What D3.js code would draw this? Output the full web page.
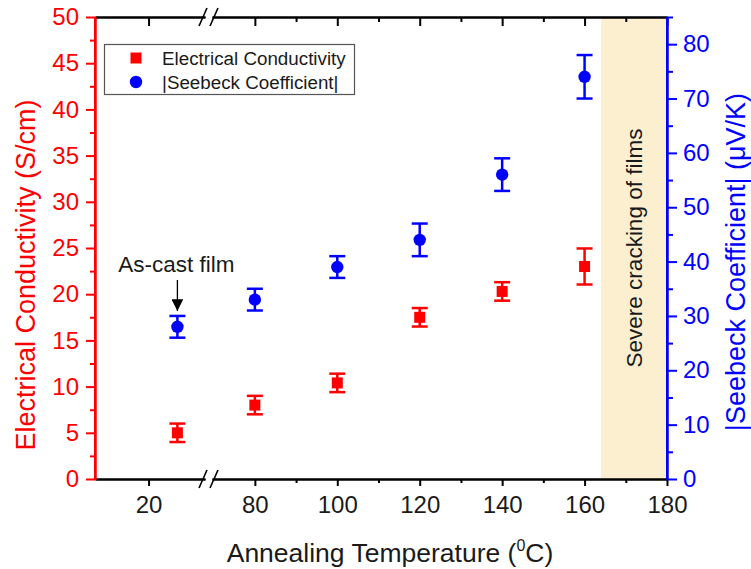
<!DOCTYPE html>
<html>
<head>
<meta charset="utf-8">
<script src="https://cdn.jsdelivr.net/npm/d3@7"></script>
<style>
  html, body { margin: 0; padding: 0; background: #fff; }
  svg { display: block; font-family: "Liberation Sans", Arial, sans-serif; }
</style>
</head>
<body>
<svg id="chart" width="751" height="569"></svg>
<script>
// Annealing temperatures (°C); the first point is the as-cast film at room temperature
const temperatures = [27, 80, 100, 120, 140, 160];
// Electrical conductivity (S/cm) and its error
const conductivity = [5.0, 8.0, 10.4, 17.5, 20.3, 23.0];
const conductivityErr = [1.0, 1.0, 1.0, 1.0, 1.0, 1.95];
// |Seebeck coefficient| (µV/K) and its error
const seebeck = [28, 33, 39, 44, 56, 74];
const seebeckErr = [2.0, 2.0, 2.0, 3.0, 3.0, 4.0];

// Tick values
const xTicksLeft = [20];
const xTicksRight = [80, 100, 120, 140, 160, 180];
const xMinorRight = [90, 110, 130, 150, 170];
const yLeftTicks = [0, 5, 10, 15, 20, 25, 30, 35, 40, 45, 50];
const yLeftMinor = [2.5, 7.5, 12.5, 17.5, 22.5, 27.5, 32.5, 37.5, 42.5, 47.5];
const yRightTicks = [0, 10, 20, 30, 40, 50, 60, 70, 80];
const yRightMinor = [5, 15, 25, 35, 45, 55, 65, 75, 85];

// Region where the films crack
const crackRange = [164, 180];

const RED = "#ff0000", BLUE = "#0000ff", INK = "#1a1a1a";
const svg = d3.select("#chart");

const plot = { left: 95, right: 667, top: 17, bottom: 479 };

// Broken x axis: two linear segments with the same px-per-degree
const xL = d3.scaleLinear().domain([7, 33.7]).range([plot.left, 205]);
const xR = d3.scaleLinear().domain([69.6, 180]).range([212, plot.right]);
const x = v => (v < 50 ? xL(v) : xR(v));

const yL = d3.scaleLinear().domain([0, 50]).range([plot.bottom, plot.top]);
const yR = d3.scaleLinear().domain([0, 85]).range([plot.bottom, plot.top]);

// Shaded cracking region
svg.append("rect")
  .attr("x", xR(crackRange[0]))
  .attr("y", plot.top)
  .attr("width", xR(crackRange[1]) - xR(crackRange[0]))
  .attr("height", plot.bottom - plot.top)
  .attr("fill", "#fcefd0");

svg.append("text")
  .attr("transform", `translate(642, 248) rotate(-90)`)
  .attr("text-anchor", "middle")
  .attr("font-size", 22.5)
  .attr("fill", INK)
  .text("Severe cracking of films");

// Axis helper: style lines and labels
function styleAxis(g, color, fontSize) {
  g.selectAll("path.domain").attr("stroke", color).attr("stroke-width", 2);
  g.selectAll(".tick line").attr("stroke", color).attr("stroke-width", 2);
  g.selectAll(".tick text").attr("fill", color).attr("font-size", fontSize)
    .attr("font-family", "Liberation Sans, Arial, sans-serif");
}

// Bottom axis segments (ticks outward) and top mirror axis (ticks inward)
[[xL, xTicksLeft, []], [xR, xTicksRight, xMinorRight]].forEach(([sc, majors, minors]) => {
  const gMinor = svg.append("g").attr("transform", `translate(0,${plot.bottom})`)
    .call(d3.axisBottom(sc).tickValues(minors).tickSize(4).tickSizeOuter(0).tickFormat(""));
  styleAxis(gMinor, "#000", 24);
  const g = svg.append("g").attr("transform", `translate(0,${plot.bottom})`)
    .call(d3.axisBottom(sc).tickValues(majors).tickSize(7).tickSizeOuter(0).tickPadding(10));
  styleAxis(g, "#000", 24);
  g.selectAll(".tick text").attr("fill", INK);
  const t1 = svg.append("g").attr("transform", `translate(0,${plot.top})`)
    .call(d3.axisBottom(sc).tickValues(minors).tickSize(5).tickSizeOuter(0).tickFormat(""));
  styleAxis(t1, "#000", 24);
  const t2 = svg.append("g").attr("transform", `translate(0,${plot.top})`)
    .call(d3.axisBottom(sc).tickValues(majors).tickSize(9).tickSizeOuter(0).tickFormat(""));
  styleAxis(t2, "#000", 24);
});

// Break marks on top and bottom axes
[plot.top, plot.bottom].forEach(yy => {
  [203, 214].forEach(cx => {
    svg.append("line")
      .attr("x1", cx - 4).attr("y1", yy + 9)
      .attr("x2", cx + 4).attr("y2", yy - 9)
      .attr("stroke", "#000").attr("stroke-width", 1.6);
  });
});

// Left axis (conductivity, red)
const gLm = svg.append("g").attr("transform", `translate(${plot.left},0)`)
  .call(d3.axisLeft(yL).tickValues(yLeftMinor).tickSize(5).tickSizeOuter(0).tickFormat(""));
styleAxis(gLm, RED, 24);
const gL = svg.append("g").attr("transform", `translate(${plot.left},0)`)
  .call(d3.axisLeft(yL).tickValues(yLeftTicks).tickSize(9).tickSizeOuter(0).tickPadding(7));
styleAxis(gL, RED, 24);

// Right axis (Seebeck, blue)
const gRm = svg.append("g").attr("transform", `translate(${plot.right},0)`)
  .call(d3.axisRight(yR).tickValues(yRightMinor).tickSize(6).tickSizeOuter(0).tickFormat(""));
styleAxis(gRm, BLUE, 24);
const gR = svg.append("g").attr("transform", `translate(${plot.right},0)`)
  .call(d3.axisRight(yR).tickValues(yRightTicks).tickSize(10).tickSizeOuter(0).tickPadding(6));
styleAxis(gR, BLUE, 24);

// Axis titles
svg.append("text")
  .attr("transform", `translate(35, 275) rotate(-90)`)
  .attr("text-anchor", "middle").attr("font-size", 27).attr("fill", RED)
  .text("Electrical Conductivity (S/cm)");

svg.append("text")
  .attr("transform", `translate(745, 262) rotate(-90)`)
  .attr("text-anchor", "middle").attr("font-size", 27).attr("fill", BLUE)
  .text("|Seebeck Coefficient| (μV/K)");

const xt = svg.append("text")
  .attr("x", 390).attr("y", 562)
  .attr("text-anchor", "middle").attr("font-size", 26.5).attr("fill", INK);
xt.append("tspan").text("Annealing Temperature (");
xt.append("tspan").attr("font-size", 16).attr("dy", -11).text("0");
xt.append("tspan").attr("dy", 11).text("C)");

// Error bars
function errorBars(values, errs, yScale, color) {
  const g = svg.append("g").attr("stroke", color).attr("stroke-width", 2.5);
  temperatures.forEach((t, i) => {
    const cx = x(t), y0 = yScale(values[i] - errs[i]), y1 = yScale(values[i] + errs[i]);
    g.append("line").attr("x1", cx).attr("x2", cx).attr("y1", y0).attr("y2", y1);
    g.append("line").attr("x1", cx - 8).attr("x2", cx + 8).attr("y1", y0).attr("y2", y0);
    g.append("line").attr("x1", cx - 8).attr("x2", cx + 8).attr("y1", y1).attr("y2", y1);
  });
}
errorBars(conductivity, conductivityErr, yL, RED);
errorBars(seebeck, seebeckErr, yR, BLUE);

// Markers
svg.append("g").selectAll("rect").data(conductivity).join("rect")
  .attr("x", (d, i) => x(temperatures[i]) - 5.5)
  .attr("y", d => yL(d) - 5.5)
  .attr("width", 11).attr("height", 11).attr("fill", RED);

svg.append("g").selectAll("circle").data(seebeck).join("circle")
  .attr("cx", (d, i) => x(temperatures[i]))
  .attr("cy", d => yR(d))
  .attr("r", 6.2).attr("fill", BLUE);

// Redraw the side axis lines over the shading edges
svg.append("line").attr("x1", plot.left).attr("x2", plot.left)
  .attr("y1", plot.top).attr("y2", plot.bottom).attr("stroke", RED).attr("stroke-width", 2);
svg.append("line").attr("x1", plot.right).attr("x2", plot.right)
  .attr("y1", plot.top).attr("y2", plot.bottom).attr("stroke", BLUE).attr("stroke-width", 2);

// As-cast annotation
const asX = x(temperatures[0]);
svg.append("text").attr("x", asX - 1).attr("y", 272)
  .attr("text-anchor", "middle").attr("font-size", 22.5).attr("fill", INK)
  .text("As-cast film");
svg.append("defs").append("marker")
  .attr("id", "arrow").attr("viewBox", "0 0 10 10").attr("refX", 10).attr("refY", 5)
  .attr("markerWidth", 9).attr("markerHeight", 9).attr("orient", "auto")
  .append("path").attr("d", "M0,0 L10,5 L0,10 Z").attr("fill", "#000");
svg.append("line").attr("x1", asX).attr("x2", asX).attr("y1", 280).attr("y2", 311)
  .attr("stroke", "#000").attr("stroke-width", 1.3).attr("marker-end", "url(#arrow)");

// Legend
const lg = svg.append("g");
lg.append("rect").attr("x", 104.5).attr("y", 44.5).attr("width", 250).attr("height", 50)
  .attr("fill", "#fff").attr("stroke", "#555").attr("stroke-width", 1.2);
lg.append("rect").attr("x", 130.5).attr("y", 52.5).attr("width", 11).attr("height", 11).attr("fill", RED);
lg.append("circle").attr("cx", 136).attr("cy", 82).attr("r", 6.2).attr("fill", BLUE);
lg.append("text").attr("x", 162).attr("y", 65).attr("font-size", 18.8).attr("fill", INK)
  .text("Electrical Conductivity");
lg.append("text").attr("x", 162).attr("y", 89).attr("font-size", 18.8).attr("fill", INK)
  .text("|Seebeck Coefficient|");
</script>
</body>
</html>
